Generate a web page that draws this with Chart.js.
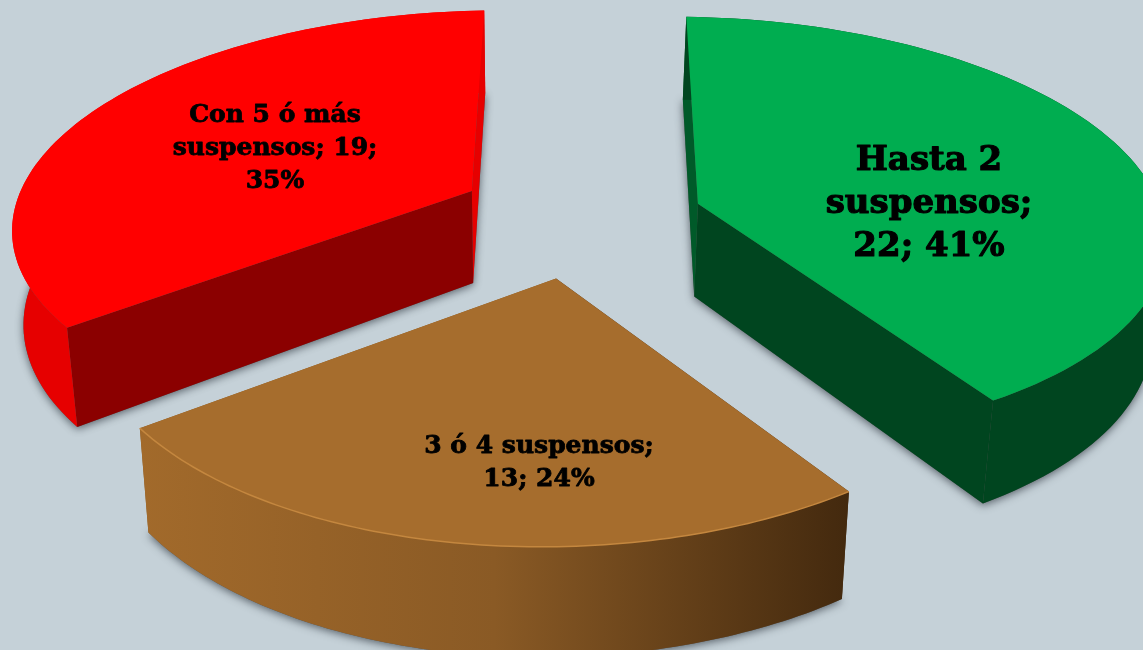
<!DOCTYPE html>
<html>
<head>
<meta charset="utf-8">
<script src="https://cdn.jsdelivr.net/npm/chart.js@4"></script>
<style>
  html, body { margin: 0; padding: 0; background: #c5d1d8; overflow: hidden; }
  canvas { display: block; }
</style>
</head>
<body>
<canvas id="pie" width="1143" height="650"></canvas>
<script>
const categories = ['Hasta 2 suspensos', '3 ó 4 suspensos', 'Con 5 ó más suspensos'];
const values     = [22, 13, 19];
const percents   = [41, 24, 35];

// top face, then side faces: [start radial, end radial, outer arc]
const topColors  = ['#00ad50', '#a66d2d', '#ff0000'];
const sideColors = [
  ['#005a29', '#00451f', '#00451f'],
  ['#43290e', '#8a5a25', null],
  ['#8b0000', '#e60000', '#e60000'],
];
const arcGradients = [null, ['#a26a2b', '#8a5a25', '#43290e'], null];
const rimColors    = [null, '#c4873f', null];

const labelFonts = [34, 25, 25];
const labelWrap  = [230, 260, 215];
const labelLead  = [43, 33, 33];
const labelAt    = [[929, 204], [539, 463], [275, 148]];

// ── Projection of the pie plane on the page (tilted camera) ──────────────────
const explode = 0.25;
const view = { a: 470, b: -56, c: 580, d: -12, e: 192, f: 223, g: -0.02, h: -0.1 };

// small per wedge corrections of the drawn perspective
const shifts      = [[3, -2], [-3, 1], [-2, -10]];
const startRadius = [0.965, 1, 1];
const endRadius   = [0.985, 1.01, 0.945];
const arcBulge    = [-0.02, 0.03, -0.005];
const skews       = [[-0.017, 0, 0.03, 0], [-0.0111, -0.0179, 0.0071, 0.0335], [0, -0.028, 0, 0]];

function project(x, y) {
  const w = 1 + view.g * x + view.h * y;
  return [(view.a * x + view.b * y + view.c) / w, (view.d * x + view.e * y + view.f) / w];
}

// the base of the wedge, thickness grows towards the viewer
function lower(p) {
  return [p[0] + (530 - p[0]) * 0.022, p[1] + 82 + p[1] * 0.052];
}

function tracePath(ctx, pts) {
  ctx.beginPath();
  pts.forEach((p, i) => i ? ctx.lineTo(p[0], p[1]) : ctx.moveTo(p[0], p[1]));
  ctx.closePath();
}

function wedge(el, i) {
  const mid = (el.startAngle + el.endAngle) / 2;
  const cx = explode * Math.cos(mid);
  const cy = explode * Math.sin(mid);
  const c0 = project(cx, cy);
  const [a, b, c, d] = skews[i];
  const move = p => {
    const dx = p[0] - c0[0];
    const dy = p[1] - c0[1];
    return [p[0] + a * dx + b * dy + shifts[i][0], p[1] + c * dx + d * dy + shifts[i][1]];
  };
  const rim = [];
  const steps = 90;
  for (let s = 0; s <= steps; s++) {
    const u = s / steps;
    const t = el.startAngle + (el.endAngle - el.startAngle) * u;
    const r = startRadius[i] + (endRadius[i] - startRadius[i]) * u + arcBulge[i] * Math.sin(Math.PI * u);
    rim.push(move(project(cx + r * Math.cos(t), cy + r * Math.sin(t))));
  }
  return { centre: move(c0), rim };
}

const pie3d = {
  id: 'pie3d',
  beforeDatasetsDraw(chart) {
    const ctx = chart.ctx;
    const arcs = chart.getDatasetMeta(0).data;

    arcs.forEach((el, i) => {
      const { centre, rim } = wedge(el, i);
      const baseRim = rim.map(lower);
      const baseCentre = lower(centre);

      // soft shadow from the base
      ctx.save();
      ctx.shadowColor = 'rgba(50,58,66,0.75)';
      ctx.shadowBlur = 9;
      ctx.shadowOffsetX = 0;
      ctx.shadowOffsetY = 2;
      ctx.fillStyle = '#555';
      tracePath(ctx, [baseCentre, ...baseRim]);
      ctx.fill();
      ctx.restore();

      const [startCol, endCol, arcCol] = sideColors[i];
      const last = rim.length - 1;

      tracePath(ctx, [centre, rim[last], baseRim[last], baseCentre]);
      ctx.fillStyle = endCol;
      ctx.fill();
      tracePath(ctx, [centre, rim[0], baseRim[0], baseCentre]);
      ctx.fillStyle = startCol;
      ctx.fill();

      let arcFill = arcCol;
      if (arcGradients[i]) {
        const xs = rim.map(p => p[0]);
        const g = ctx.createLinearGradient(Math.min(...xs), 0, Math.max(...xs), 0);
        arcGradients[i].forEach((c, k, all) => g.addColorStop(k / (all.length - 1), c));
        arcFill = g;
      }
      tracePath(ctx, [...rim, ...baseRim.slice().reverse()]);
      ctx.fillStyle = arcFill;
      ctx.fill();

      tracePath(ctx, [centre, ...rim]);
      ctx.fillStyle = topColors[i];
      ctx.fill();

      if (rimColors[i]) {
        ctx.beginPath();
        rim.forEach((p, k) => k ? ctx.lineTo(p[0], p[1]) : ctx.moveTo(p[0], p[1]));
        ctx.strokeStyle = rimColors[i];
        ctx.lineWidth = 1.5;
        ctx.stroke();
      }
    });
    return false;
  },
  afterDraw(chart) {
    const ctx = chart.ctx;
    ctx.save();
    ctx.fillStyle = '#000';
    ctx.strokeStyle = '#000';
    ctx.lineJoin = 'round';
    ctx.textAlign = 'center';
    ctx.textBaseline = 'middle';
    categories.forEach((name, i) => {
      ctx.font = `bold ${labelFonts[i]}px "DejaVu Serif"`;
      ctx.lineWidth = labelFonts[i] / 30;
      const words = `${name}; ${values[i]}; ${percents[i]}%`.split(' ');
      const lines = [];
      let line = '';
      words.forEach(w => {
        const next = line ? line + ' ' + w : w;
        if (ctx.measureText(next).width > labelWrap[i] && line) {
          lines.push(line);
          line = w;
        } else {
          line = next;
        }
      });
      lines.push(line);
      const top = labelAt[i][1] - (lines.length - 1) * labelLead[i] / 2;
      lines.forEach((l, k) => {
        ctx.fillText(l, labelAt[i][0], top + k * labelLead[i]);
        ctx.strokeText(l, labelAt[i][0], top + k * labelLead[i]);
      });
    });
    ctx.restore();
  }
};

new Chart(document.getElementById('pie'), {
  type: 'pie',
  data: {
    labels: categories,
    datasets: [{ data: values, backgroundColor: topColors, borderWidth: 0 }]
  },
  options: {
    responsive: false,
    animation: false,
    plugins: { legend: { display: false }, tooltip: { enabled: false } }
  },
  plugins: [pie3d]
});
</script>
</body>
</html>
